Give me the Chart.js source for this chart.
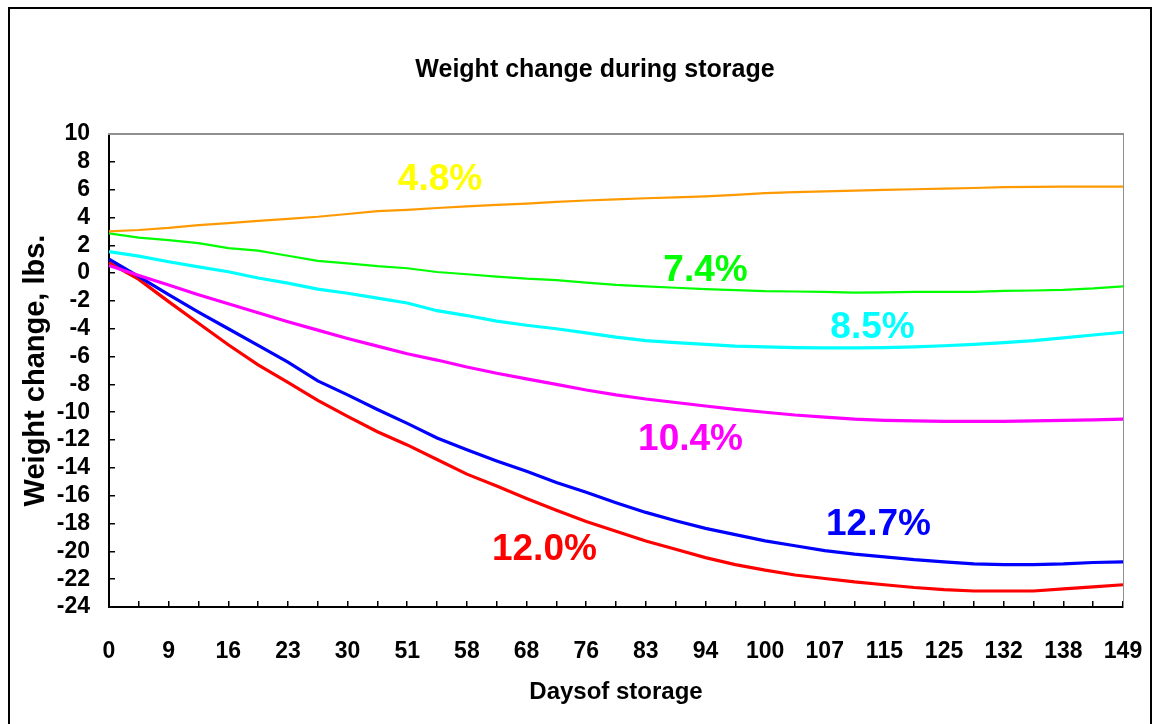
<!DOCTYPE html>
<html>
<head>
<meta charset="utf-8">
<script src="https://cdn.jsdelivr.net/npm/chart.js@4.4.0/dist/chart.umd.min.js"></script>
<style>
  html, body { margin: 0; padding: 0; background: #fff; }
  #wrap { position: relative; width: 1158px; height: 724px; overflow: hidden; }
  #frame { position: absolute; left: 8px; top: 7px; width: 1140px; height: 740px; border: 2px solid #000; }
  #chart { position: absolute; left: 0; top: 0; }
</style>
</head>
<body>
<div id="wrap">
  <div id="frame"></div>
  <canvas id="chart" width="1158" height="724"></canvas>
</div>
<script>
// Days printed under the axis (one label every second tick)
const dayLabels = [0, 9, 16, 23, 30, 51, 58, 68, 76, 83, 94, 100, 107, 115, 125, 132, 138, 149];

// Weight change (lbs) per tick, one array per moisture loss
const loss48 = [3.0, 3.1, 3.25, 3.45, 3.6, 3.75, 3.9, 4.05, 4.25, 4.45, 4.55, 4.68, 4.8, 4.9, 5.0, 5.12, 5.22, 5.3,
                5.38, 5.45, 5.52, 5.62, 5.75, 5.82, 5.88, 5.93, 5.98, 6.03, 6.08, 6.12, 6.18, 6.2, 6.22, 6.22, 6.22];
const loss74 = [2.86, 2.55, 2.37, 2.15, 1.8, 1.62, 1.25, 0.88, 0.7, 0.5, 0.35, 0.08, -0.08, -0.25, -0.4, -0.5, -0.68, -0.85,
                -0.95, -1.05, -1.15, -1.22, -1.3, -1.32, -1.35, -1.4, -1.38, -1.35, -1.35, -1.35, -1.28, -1.25, -1.2, -1.1, -0.95];
const loss85 = [1.55, 1.22, 0.82, 0.45, 0.1, -0.35, -0.72, -1.15, -1.45, -1.8, -2.15, -2.7, -3.05, -3.45, -3.75, -4.0, -4.3, -4.6,
                -4.85, -5.0, -5.12, -5.25, -5.3, -5.35, -5.38, -5.38, -5.35, -5.3, -5.22, -5.12, -5.0, -4.85, -4.65, -4.45, -4.25];
const loss104 = [0.55, -0.17, -0.85, -1.55, -2.2, -2.85, -3.5, -4.1, -4.7, -5.25, -5.8, -6.25, -6.75, -7.2, -7.6, -8.0, -8.4, -8.75,
                 -9.05, -9.3, -9.55, -9.8, -10.0, -10.2, -10.35, -10.5, -10.58, -10.62, -10.65, -10.65, -10.65, -10.62, -10.58, -10.55, -10.5];
const loss127 = [1.0, -0.25, -1.55, -2.8, -4.0, -5.2, -6.4, -7.75, -8.75, -9.8, -10.8, -11.85, -12.7, -13.5, -14.25, -15.05, -15.75, -16.5,
                 -17.2, -17.8, -18.35, -18.8, -19.25, -19.6, -19.95, -20.2, -20.4, -20.6, -20.75, -20.9, -20.95, -20.95, -20.9, -20.8, -20.75];
const loss120 = [0.75, -0.45, -2.05, -3.6, -5.15, -6.6, -7.85, -9.15, -10.3, -11.4, -12.35, -13.4, -14.45, -15.3, -16.2, -17.05, -17.85, -18.55,
                 -19.25, -19.85, -20.45, -20.95, -21.35, -21.7, -21.95, -22.2, -22.4, -22.6, -22.75, -22.85, -22.85, -22.85, -22.7, -22.55, -22.4];

// Labels written next to the curves: text, colour, [tick index, lbs]
const tagText = ["4.8%", "7.4%", "8.5%", "10.4%", "12.7%", "12.0%"];
const tagColors = ["#FFFF00", "#00FF00", "#00FFFF", "#FF00FF", "#0000FF", "#FF0000"];
const tagAt = [[11.1, 6.7], [20.0, 0.2], [25.6, -3.9], [19.5, -12.0], [25.8, -18.1], [14.6, -19.9]];

const TITLE = "Weight change during storage";
const FONT = "'Liberation Sans', Arial, sans-serif";

// one category per tick mark, label only on every second one
const categories = [];
dayLabels.forEach((d, i) => {
    categories.push(String(d));
    if (i < dayLabels.length - 1) categories.push("");
});

const tagsPlugin = {
    id: "tags",
    afterDatasetsDraw(chart) {
        const { ctx, scales } = chart;
        ctx.save();
        ctx.font = "bold 37px " + FONT;
        ctx.textAlign = "center";
        ctx.textBaseline = "middle";
        tagText.forEach((t, i) => {
            ctx.fillStyle = tagColors[i];
            ctx.fillText(t, scales.x.getPixelForValue(tagAt[i][0]), scales.y.getPixelForValue(tagAt[i][1]));
        });
        ctx.restore();
    }
};

// chart heading, sits a little left of the plot centre like the original
const headingPlugin = {
    id: "heading",
    afterDraw(chart) {
        const ctx = chart.ctx;
        ctx.save();
        ctx.font = "bold 25px " + FONT;
        ctx.fillStyle = "#000";
        ctx.textAlign = "center";
        ctx.textBaseline = "middle";
        ctx.fillText(TITLE, 595, 70);
        ctx.restore();
    }
};

function series(data, color, width) {
    return { data, borderColor: color, borderWidth: width, pointRadius: 0, tension: 0, fill: false };
}

document.addEventListener("DOMContentLoaded", () => {
    const ctx = document.getElementById("chart").getContext("2d");

    new Chart(ctx, {
        type: "line",
        data: {
            labels: categories,
            datasets: [
                series(loss48, "#FF9900", 2.2),
                series(loss74, "#00FF00", 2.2),
                series(loss85, "#00FFFF", 3.2),
                series(loss104, "#FF00FF", 3.2),
                series(loss127, "#0000FF", 3.2),
                series(loss120, "#FF0000", 3.2),
            ],
        },
        options: {
            responsive: false,
            animation: false,
            layout: { padding: { left: 0, right: 35, top: 134, bottom: 0 } },
            plugins: {
                legend: { display: false },
                tooltip: { enabled: false },
                title: { display: false },
            },
            scales: {
                x: {
                    type: "category",
                    position: "bottom",
                    afterFit: s => {
                        s.height = 117;
                        s.paddingLeft = 0;
                        s.paddingRight = 0;
                    },
                    grid: { drawOnChartArea: false, drawTicks: true, tickLength: -6, color: "#000", lineWidth: 1.5 },
                    border: { color: "#000", width: 2 },
                    ticks: {
                        autoSkip: false,
                        maxRotation: 0,
                        padding: 37,
                        color: "#000",
                        font: { family: FONT, size: 23, weight: "bold" },
                    },
                    title: {
                        display: true,
                        text: "Daysof storage",
                        color: "#000",
                        font: { family: FONT, size: 24, weight: "bold" },
                        padding: { top: 0, bottom: 17 },
                    },
                },
                y: {
                    min: -24,
                    max: 10,
                    afterFit: s => {
                        s.width = 109;
                        s.paddingTop = 0;
                        s.paddingBottom = 0;
                    },
                    grid: { drawOnChartArea: false, drawTicks: true, tickLength: -6, color: "#000", lineWidth: 1.5 },
                    border: { color: "#000", width: 2 },
                    ticks: {
                        stepSize: 2,
                        autoSkip: false,
                        padding: 25,
                        color: "#000",
                        font: { family: FONT, size: 23, weight: "bold" },
                    },
                    title: {
                        display: true,
                        text: "Weight change, lbs.",
                        color: "#000",
                        font: { family: FONT, size: 29, weight: "bold" },
                        padding: { top: 19, bottom: 0 },
                    },
                },
                xTop: {
                    type: "category",
                    position: "top",
                    afterFit: s => { s.height = 0; },
                    grid: { display: false, drawTicks: false },
                    border: { color: "#909090", width: 2 },
                    ticks: { display: false },
                },
                yRight: {
                    position: "right",
                    afterFit: s => { s.width = 0; },
                    grid: { display: false, drawTicks: false },
                    border: { color: "#909090", width: 1 },
                    ticks: { display: false },
                },
            },
        },
        plugins: [tagsPlugin, headingPlugin],
    });
});
</script>
</body>
</html>
